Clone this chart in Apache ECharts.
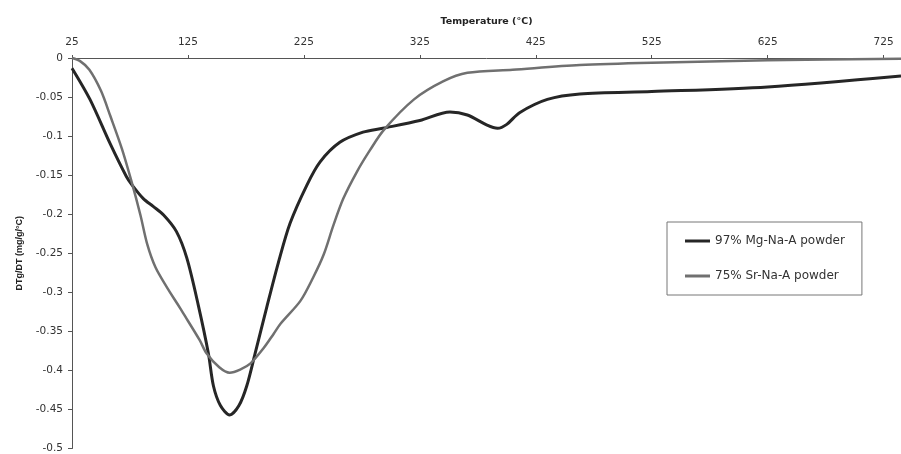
<!DOCTYPE html>
<html>
<head>
<meta charset="utf-8">
<script src="https://cdn.jsdelivr.net/npm/echarts@6/dist/echarts.min.js"></script>
<style>
html,body{margin:0;padding:0;background:#fff;}
#chart{width:901px;height:454px;}
</style>
</head>
<body>
<div id="chart"></div>
<script>
const xAxisTitle = 'Temperature (°C)';
const yAxisTitle = 'DTg/DT (mg/g/°C)';
const seriesNames = ['97% Mg-Na-A powder', '75% Sr-Na-A powder'];

const mgTemp = [25, 40.5, 58, 72, 77, 86.5, 95, 104, 115, 124, 134, 142.6, 147, 153, 161, 169, 175.7, 183, 193, 203, 213, 227.5, 239, 256, 276, 293, 325, 351, 366, 383, 392, 400, 411, 435, 463, 525, 625, 740];
const mgDTG = [-0.013, -0.053, -0.11, -0.152, -0.163, -0.18, -0.19, -0.201, -0.222, -0.256, -0.317, -0.378, -0.42, -0.445, -0.457, -0.445, -0.42, -0.378, -0.319, -0.262, -0.212, -0.163, -0.133, -0.108, -0.095, -0.09, -0.08, -0.069, -0.073, -0.086, -0.09, -0.085, -0.07, -0.053, -0.046, -0.043, -0.037, -0.023];

const srTemp = [25, 32, 40, 50, 58, 68, 76.5, 84, 90, 97, 107, 116, 121, 135, 141, 152, 161, 170, 179, 190, 199, 205, 222, 233, 242, 250.5, 259, 270.6, 282, 294, 320, 345, 366, 405, 463, 525, 625, 740];
const srDTG = [0, -0.004, -0.015, -0.042, -0.074, -0.116, -0.159, -0.201, -0.239, -0.268, -0.294, -0.315, -0.327, -0.361, -0.378, -0.396, -0.403, -0.399, -0.391, -0.372, -0.353, -0.34, -0.311, -0.281, -0.252, -0.214, -0.18, -0.146, -0.118, -0.092, -0.053, -0.03, -0.019, -0.015, -0.009, -0.006, -0.003, -0.001];

function pairs(xs, ys) { return xs.map((x, i) => [x, ys[i]]); }

const font = 'DejaVu Sans, Verdana, sans-serif';
const chart = echarts.init(document.getElementById('chart'));
chart.setOption({
  backgroundColor: '#fff',
  animation: false,
  grid: { left: 72, top: 58, right: 0, bottom: 1 },
  legend: {
    orient: 'vertical',
    left: 667, top: 222,
    padding: [13, 17, 13, 18],
    itemGap: 23,
    itemWidth: 25, itemHeight: 3,
    icon: 'rect',
    borderColor: '#777', borderWidth: 1,
    textStyle: { fontFamily: font, fontSize: 12, color: '#333' },
    data: seriesNames
  },
  xAxis: {
    type: 'value', position: 'top',
    min: 25, max: 740, interval: 100,
    name: xAxisTitle, nameLocation: 'middle', nameGap: 31,
    nameTextStyle: { fontFamily: font, fontSize: 9.5, fontWeight: 'bold', color: '#222' },
    axisLine: { lineStyle: { color: '#555', width: 1 } },
    axisTick: { length: 3, lineStyle: { color: '#555' } },
    axisLabel: { fontFamily: font, fontSize: 10.5, color: '#333', margin: 10, showMaxLabel: false },
    splitLine: { show: false }
  },
  yAxis: {
    type: 'value',
    min: -0.5, max: 0, interval: 0.05,
    name: yAxisTitle, nameLocation: 'middle', nameGap: 48, nameRotate: 90,
    nameTextStyle: { fontFamily: 'Liberation Sans, Arial, sans-serif', fontSize: 9, fontWeight: 'bold', color: '#222' },
    axisLine: { show: true, lineStyle: { color: '#555', width: 1 } },
    axisTick: { show: true, length: 4, lineStyle: { color: '#555' } },
    axisLabel: { fontFamily: font, fontSize: 10.5, color: '#333', margin: 9,
      formatter: v => String(parseFloat(v.toFixed(2))) },
    splitLine: { show: false }
  },
  series: [
    { name: seriesNames[0], type: 'line', data: pairs(mgTemp, mgDTG), smooth: 0.3,
      symbol: 'none', color: '#262626', lineStyle: { width: 3, color: '#262626' } },
    { name: seriesNames[1], type: 'line', data: pairs(srTemp, srDTG), smooth: 0.3,
      symbol: 'none', color: '#707070', lineStyle: { width: 2.5, color: '#707070' } }
  ]
});
</script>
</body>
</html>
